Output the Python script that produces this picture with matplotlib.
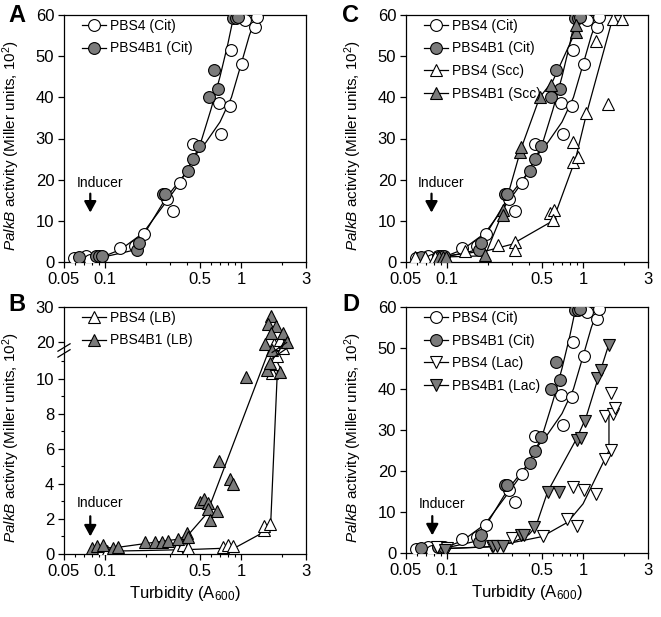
import numpy as np
import matplotlib
matplotlib.use("Agg")
import matplotlib.pyplot as plt
from matplotlib.ticker import FixedLocator, NullFormatter

plt.rcParams['font.family'] = ['Liberation Sans', 'DejaVu Sans']
plt.rcParams['mathtext.fontset'] = 'custom'
plt.rcParams['mathtext.rm'] = 'Liberation Sans'
plt.rcParams['mathtext.it'] = 'Liberation Sans:italic'

# ---- Citrate series (same in panels A, C, D) ----
cit_pbs4_x = [0.059, 0.072, 0.078, 0.128, 0.166, 0.193, 0.284, 0.314, 0.356, 0.446,
              0.713, 0.689, 0.83, 0.84, 1.018, 1.065, 1.26, 1.30]
cit_pbs4_y = [1.0, 1.4, 0.4, 3.4, 4.0, 6.9, 15.4, 12.4, 19.2, 28.6,
              31.2, 38.6, 38.0, 51.4, 48.0, 58.7, 57.0, 59.4]
cit_b1_x = [0.064, 0.086, 0.09, 0.095, 0.171, 0.178, 0.265, 0.276, 0.405, 0.441,
            0.489, 0.585, 0.682, 0.634, 0.879, 0.92, 0.95]
cit_b1_y = [1.2, 1.4, 1.4, 1.4, 2.8, 4.5, 16.6, 16.6, 22.0, 24.9,
            28.2, 40.0, 42.1, 46.7, 59.2, 59.2, 59.5]
cit_pbs4_fit_x = [0.06, 0.1, 0.13, 0.19, 0.28, 0.36, 0.45, 0.55, 0.7, 0.85, 1.0, 1.15, 1.3]
cit_pbs4_fit_y = [1.0, 1.5, 3.0, 7.0, 14.5, 19.5, 25.5, 29.0, 34.0, 40.0, 48.0, 55.0, 59.8]
cit_b1_fit_x = [0.065, 0.1, 0.17, 0.2, 0.28, 0.4, 0.5, 0.6, 0.7, 0.8, 0.88]
cit_b1_fit_y = [1.0, 1.3, 3.0, 7.5, 15.5, 22.0, 28.5, 37.0, 45.0, 53.0, 59.5]

# ---- Panel C: succinate ----
scc_pbs4_x = [0.058, 0.069, 0.082, 0.136, 0.238, 0.316, 0.316, 0.57, 0.61, 0.601,
              0.848, 0.923, 0.839, 1.058, 1.253, 1.526, 1.66, 1.93]
scc_pbs4_y = [1.3, 1.3, 1.3, 2.7, 4.1, 4.9, 2.9, 12.0, 12.6, 10.2,
              24.3, 25.6, 29.2, 36.2, 53.7, 38.3, 59.1, 59.1]
scc_b1_x = [0.088, 0.094, 0.099, 0.19, 0.256, 0.26, 0.343, 0.35, 0.486, 0.586, 0.883, 0.89]
scc_b1_y = [1.3, 1.3, 1.3, 1.7, 12.7, 11.5, 26.7, 28.0, 40.1, 42.9, 55.9, 57.5]
scc_pbs4_line_x = [0.058, 0.1, 0.2, 0.3, 0.6, 0.88, 1.06, 1.66]
scc_pbs4_line_y = [1.0, 1.5, 2.8, 4.3, 10.0, 25.0, 36.0, 59.5]
scc_b1_line_x = [0.09, 0.19, 0.26, 0.35, 0.48, 0.6, 0.88, 0.9]
scc_b1_line_y = [1.2, 1.5, 12.5, 27.5, 40.0, 44.0, 56.0, 59.5]

# ---- Panel D: lactate ----
lac_pbs4_x = [0.084, 0.1, 0.213, 0.298, 0.509, 0.76, 0.904, 0.845, 1.01, 1.25,
              1.45, 1.60, 1.45, 1.66, 1.71, 1.61]
lac_pbs4_y = [1.5, 1.2, 1.8, 3.6, 4.05, 8.4, 6.6, 16.2, 15.4, 14.4,
              22.9, 25.1, 33.4, 34.0, 35.3, 39.1]
lac_b1_x = [0.097, 0.219, 0.235, 0.26, 0.35, 0.37, 0.435, 0.553, 0.66, 0.904,
            0.96, 1.03, 1.27, 1.36, 1.55]
lac_b1_y = [0.8, 1.8, 1.8, 1.6, 4.5, 4.3, 6.3, 15.0, 14.8, 27.6,
            28.0, 32.2, 42.8, 44.6, 50.8]
lac_pbs4_line_x = [0.08, 0.2, 0.3, 0.5, 0.77, 1.0, 1.45, 1.55, 1.55]
lac_pbs4_line_y = [1.0, 1.5, 2.5, 4.0, 7.5, 12.0, 23.0, 25.0, 34.0]
lac_b1_line_x = [0.09, 0.2, 0.3, 0.4, 0.45, 0.55, 0.9, 1.05, 1.3, 1.55]
lac_b1_line_y = [1.0, 1.5, 2.5, 4.5, 6.5, 15.0, 28.0, 33.0, 43.0, 51.0]

# ---- Panel B: LB (broken y axis) ----
lb_b1_x = [0.080, 0.087, 0.096, 0.115, 0.125, 0.197, 0.233, 0.261, 0.292, 0.346,
           0.398, 0.409, 0.499, 0.534, 0.574, 0.574, 0.591, 0.668, 0.692, 0.830,
           0.867, 1.083, 1.54, 1.62, 1.93, 1.65, 1.585, 1.81, 1.65, 2.04, 2.16, 1.50, 1.70]
lb_b1_y = [0.32, 0.45, 0.51, 0.32, 0.38, 0.70, 0.70, 0.70, 0.75, 0.83,
           1.17, 0.98, 2.97, 3.16, 2.91, 2.59, 1.93, 2.44, 5.29, 4.25,
           4.0, 10.1, 10.5, 10.9, 10.4, 27.6, 25.3, 24.6, 22.7, 22.7, 20.2, 19.7, 18.0]
lb_pbs4_x = [0.092, 0.103, 0.115, 0.336, 0.372, 0.405, 0.74, 0.805, 0.877, 1.47,
             1.47, 1.63, 1.69, 1.79, 1.85, 1.75, 1.93, 2.05, 2.15]
lb_pbs4_y = [0.19, 0.19, 0.19, 0.32, 0.51, 0.32, 0.41, 0.51, 0.45, 1.36,
             1.59, 1.70, 10.3, 10.85, 11.3, 19.5, 20.6, 18.5, 20.0]
lb_b1_line_x = [0.085, 0.13, 0.2, 0.35, 0.41, 0.56, 1.6]
lb_b1_line_y = [0.3, 0.4, 0.6, 0.85, 1.1, 2.3, 11.6]
lb_pbs4_line_x = [0.09, 0.2, 0.4, 0.9, 1.47, 1.65, 1.85, 1.88]
lb_pbs4_line_y = [0.15, 0.2, 0.25, 0.35, 1.25, 1.7, 10.5, 11.6]

xticks = [0.05, 0.1, 0.5, 1, 3]
xtick_labels = ['0.05', '0.1', '0.5', '1', '3']
xminor = [0.06, 0.07, 0.08, 0.09, 0.2, 0.3, 0.4, 0.6, 0.7, 0.8, 0.9, 2]

WHITE = 'white'
GRAY = '#7b7b7b'
ms = 8.5
lw = 0.9

# broken axis for panel B
LO, HI, K = 11.6, 17.8, 0.2023
def fwd(y):
    return np.interp(y, [-5, LO, HI, 40], [-5, LO, LO + 0.01, LO + 0.01 + (40 - HI) * K])
def inv(y):
    return np.interp(y, [-5, LO, LO + 0.01, LO + 0.01 + (40 - HI) * K], [-5, LO, HI, 40])

W, H = 661, 617
fig = plt.figure(figsize=(W / 100, H / 100), dpi=100)

def make_ax(left, top, right, bottom):
    return fig.add_axes([left / W, 1 - bottom / H, (right - left) / W, (bottom - top) / H])

axA = make_ax(64, 15, 306, 262)
axC = make_ax(406, 15, 648, 262)
axB = make_ax(64, 307, 306, 554)
axD = make_ax(406, 307, 648, 553)

def style(ax, xlabel=False):
    ax.set_xscale('log')
    ax.set_xlim(0.05, 3)
    ax.xaxis.set_major_locator(FixedLocator(xticks))
    ax.set_xticklabels(xtick_labels)
    ax.xaxis.set_minor_locator(FixedLocator(xminor))
    ax.xaxis.set_minor_formatter(NullFormatter())
    ax.tick_params(which='major', length=4, width=0.9, labelsize=12, pad=3)
    ax.tick_params(which='minor', length=2.5, width=0.8)
    for s in ax.spines.values():
        s.set_linewidth(0.9)
    ax.set_ylabel(r'$\it{PalkB}$ activity (Miller units, 10$^2$)', fontsize=11, labelpad=5)
    ax.yaxis.set_label_coords(-0.175, 0.47)
    if xlabel:
        ax.set_xlabel(r'Turbidity (A$_{600}$)', fontsize=12, labelpad=4)

def inducer(ax, x, ytext, yhead, ytail):
    ax.text(x * 1.18, ytext, 'Inducer', fontsize=10, ha='center', va='bottom')
    ax.annotate('', xy=(x, yhead), xytext=(x, ytail),
                arrowprops=dict(arrowstyle='-|>,head_width=0.3,head_length=0.55',
                                mutation_scale=12, shrinkA=0, shrinkB=0,
                                color='black', lw=1.6))

def series(ax, lx, ly, px, py, marker, fc, label):
    ax.plot(lx, ly, color='black', lw=lw, zorder=2)
    ax.plot(px, py, ls='none', marker=marker, ms=ms, mfc=fc, mec='black', mew=0.8, zorder=3)
    ax.plot([], [], color='black', lw=lw, marker=marker, ms=ms, mfc=fc, mec='black',
            mew=0.8, label=label)

def legend(ax):
    ax.legend(loc='upper left', frameon=False, fontsize=10, handlelength=1.7,
              handletextpad=0.35, labelspacing=0.62, borderaxespad=0.2,
              bbox_to_anchor=(0.04, 1.018))

# Panel A
series(axA, cit_pbs4_fit_x, cit_pbs4_fit_y, cit_pbs4_x, cit_pbs4_y, 'o', WHITE, 'PBS4 (Cit)')
series(axA, cit_b1_fit_x, cit_b1_fit_y, cit_b1_x, cit_b1_y, 'o', GRAY, 'PBS4B1 (Cit)')
axA.set_ylim(0, 60)
axA.set_yticks([0, 10, 20, 30, 40, 50, 60])
style(axA)
legend(axA)
inducer(axA, 0.078, 17.6, 12.0, 16.6)

# Panel C
series(axC, cit_pbs4_fit_x, cit_pbs4_fit_y, cit_pbs4_x, cit_pbs4_y, 'o', WHITE, 'PBS4 (Cit)')
series(axC, cit_b1_fit_x, cit_b1_fit_y, cit_b1_x, cit_b1_y, 'o', GRAY, 'PBS4B1 (Cit)')
series(axC, scc_pbs4_line_x, scc_pbs4_line_y, scc_pbs4_x, scc_pbs4_y, '^', WHITE, 'PBS4 (Scc)')
series(axC, scc_b1_line_x, scc_b1_line_y, scc_b1_x, scc_b1_y, '^', GRAY, 'PBS4B1 (Scc)')
axC.set_ylim(0, 60)
axC.set_yticks([0, 10, 20, 30, 40, 50, 60])
style(axC)
legend(axC)
inducer(axC, 0.077, 17.6, 12.0, 16.6)

# Panel D
series(axD, cit_pbs4_fit_x, cit_pbs4_fit_y, cit_pbs4_x, cit_pbs4_y, 'o', WHITE, 'PBS4 (Cit)')
series(axD, cit_b1_fit_x, cit_b1_fit_y, cit_b1_x, cit_b1_y, 'o', GRAY, 'PBS4B1 (Cit)')
series(axD, lac_pbs4_line_x, lac_pbs4_line_y, lac_pbs4_x, lac_pbs4_y, 'v', WHITE, 'PBS4 (Lac)')
series(axD, lac_b1_line_x, lac_b1_line_y, lac_b1_x, lac_b1_y, 'v', GRAY, 'PBS4B1 (Lac)')
axD.set_ylim(0, 60)
axD.set_yticks([0, 10, 20, 30, 40, 50, 60])
style(axD, xlabel=True)
legend(axD)
inducer(axD, 0.078, 10.2, 4.3, 9.0)

# Panel B
axB.set_yscale('function', functions=(fwd, inv))
series(axB, lb_pbs4_line_x, lb_pbs4_line_y, lb_pbs4_x, lb_pbs4_y, '^', WHITE, 'PBS4 (LB)')
series(axB, lb_b1_line_x, lb_b1_line_y, lb_b1_x, lb_b1_y, '^', GRAY, 'PBS4B1 (LB)')
axB.set_ylim(0, 30)
axB.set_yticks([0, 2, 4, 6, 8, 10, 20, 30])
axB.yaxis.set_minor_locator(FixedLocator([1, 3, 5, 7, 9, 11]))
axB.yaxis.set_minor_formatter(NullFormatter())
style(axB, xlabel=True)
legend(axB)
inducer(axB, 0.078, 2.5, 1.0, 2.15)
# break marks on left spine and on curves
yb = fwd(LO + 0.5) / fwd(30)
for dy in (-0.012, 0.012):
    axB.plot([-0.025, 0.025], [yb + dy - 0.015, yb + dy + 0.015], transform=axB.transAxes,
             color='black', lw=0.9, clip_on=False, zorder=5)
for dy in (-0.012, 0.012):
    axB.plot([0.86, 0.92], [yb + dy - 0.02, yb + dy + 0.02], transform=axB.transAxes,
             color='black', lw=0.9, zorder=5)

for ax, letter, x, y in [(axA, 'A', 8, 4), (axC, 'C', 342, 4), (axB, 'B', 8, 293), (axD, 'D', 342, 293)]:
    fig.text(x / W, 1 - y / H, letter, fontsize=17, fontweight='bold', va='top', ha='left')

fig.savefig('out.png', dpi=100)
